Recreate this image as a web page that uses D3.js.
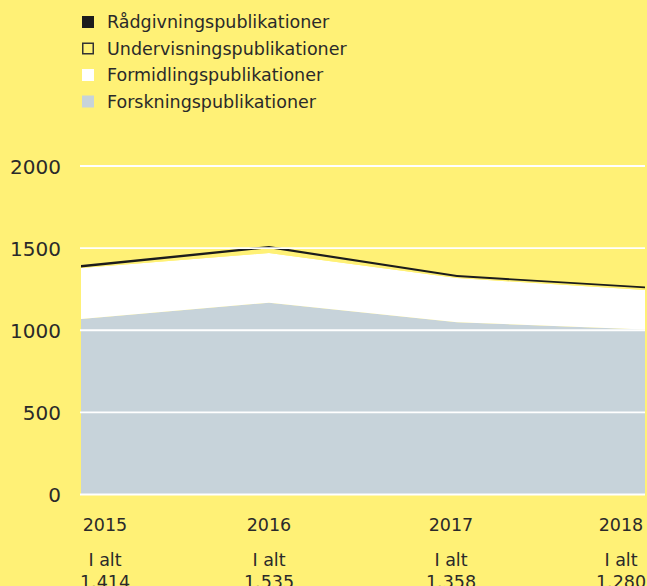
<!DOCTYPE html>
<html>
<head>
<meta charset="utf-8">
<script src="https://cdn.jsdelivr.net/npm/d3@7"></script>
<style>
html, body { margin: 0; padding: 0; background: #fff176; }
svg { display: block; }
text { font-family: "DejaVu Sans", sans-serif; fill: #2a2a2a; }
</style>
</head>
<body>
<script>
const years = [2015, 2016, 2017, 2018];
const forskning = [1068, 1168, 1048, 1005];
const formidling = [311, 302, 270, 240];
const undervisning = [3, 29, 6, 10];
const raadgivning = [15, 14, 12, 12];
const totalLabels = ["1.414", "1.535", "1.358", "1.280"];
const yTicks = [0, 500, 1000, 1500, 2000];
const seriesNames = ["Forskningspublikationer", "Formidlingspublikationer", "Undervisningspublikationer", "Rådgivningspublikationer"];
const legendOrder = ["Rådgivningspublikationer", "Undervisningspublikationer", "Formidlingspublikationer", "Forskningspublikationer"];

const W = 647, H = 586;
const bg = "#fff176";
const fills = {
  "Forskningspublikationer": "#c7d3da",
  "Formidlingspublikationer": "#ffffff",
  "Undervisningspublikationer": bg,
  "Rådgivningspublikationer": "#1c1c1c"
};

const svg = d3.select("body").append("svg").attr("width", W).attr("height", H);
svg.append("rect").attr("width", W).attr("height", H).attr("fill", bg);

const x = d3.scalePoint().domain(years).range([81, 645]);
const y = d3.scaleLinear().domain([0, 2000]).range([494.5, 166]);

const rows = years.map((yr, i) => ({
  year: yr,
  "Forskningspublikationer": forskning[i],
  "Formidlingspublikationer": formidling[i],
  "Undervisningspublikationer": undervisning[i],
  "Rådgivningspublikationer": raadgivning[i]
}));
const stacked = d3.stack().keys(seriesNames)(rows);

const area = d3.area()
  .x(d => x(d.data.year))
  .y0(d => y(d[0]))
  .y1(d => y(d[1]));

svg.append("g").selectAll("path").data(stacked).join("path")
  .attr("d", area)
  .attr("fill", d => fills[d.key]);

// gridlines
svg.append("g").selectAll("line").data(yTicks).join("line")
  .attr("x1", 80).attr("x2", 645)
  .attr("y1", d => y(d)).attr("y2", d => y(d))
  .attr("stroke", "#ffffff").attr("stroke-width", 1.8);

// y axis labels
const yAxis = d3.axisLeft(y).tickValues(yTicks).tickSize(0).tickPadding(0).tickFormat(d3.format("d"));
const ya = svg.append("g").attr("transform", "translate(61,0)").call(yAxis);
ya.select(".domain").remove();
ya.selectAll("text").attr("font-size", 20).attr("font-family", "DejaVu Sans, sans-serif").attr("fill", "#222").attr("dy", "0.35em");

// x labels
const lx = d => Math.max(105, Math.min(621, x(d))) - (d === 2017 ? 6 : 0);
const xl = svg.append("g");
xl.selectAll("text.year").data(years).join("text").attr("class", "year")
  .attr("x", lx).attr("y", 531).attr("text-anchor", "middle")
  .attr("font-size", 17.5).attr("fill", "#3d3d3d").text(d => d);
xl.selectAll("text.ialt").data(years).join("text").attr("class", "ialt")
  .attr("x", lx).attr("y", 566).attr("text-anchor", "middle")
  .attr("font-size", 17.5).attr("fill", "#3d3d3d").text("I alt");
xl.selectAll("text.tot").data(years).join("text").attr("class", "tot")
  .attr("x", lx).attr("y", 588).attr("text-anchor", "middle")
  .attr("font-size", 17.5).attr("fill", "#3d3d3d").text((d, i) => totalLabels[i]);

// legend
const lg = svg.append("g");
const items = lg.selectAll("g").data(legendOrder).join("g")
  .attr("transform", (d, i) => `translate(82, ${22 + i * 26.5})`);
items.append("rect")
  .attr("x", d => d === "Undervisningspublikationer" ? 0.75 : 0)
  .attr("y", d => d === "Undervisningspublikationer" ? -5.25 : -6)
  .attr("width", d => d === "Undervisningspublikationer" ? 10.5 : 12)
  .attr("height", d => d === "Undervisningspublikationer" ? 10.5 : 12)
  .attr("fill", d => fills[d])
  .attr("stroke", d => d === "Undervisningspublikationer" ? "#333" : "none")
  .attr("stroke-width", 1.5);
items.append("text").attr("x", 25).attr("dy", "0.35em")
  .attr("font-size", 17.5).attr("fill", "#383838").text(d => d);
</script>
</body>
</html>
